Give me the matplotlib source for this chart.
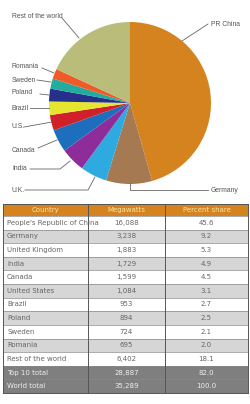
import matplotlib
matplotlib.use("Agg")
import matplotlib.pyplot as plt
from matplotlib.patches import Rectangle

# ---- data ----
countries = ["PR China", "Germany", "U.K.", "India", "Canada", "U.S.", "Brazil",
             "Poland", "Sweden", "Romania", "Rest of the world"]
megawatts = [16088, 3238, 1883, 1729, 1599, 1084, 953, 894, 724, 695, 6402]
colors = ["#D4831F", "#A57A52", "#2EAAE1", "#8E2C9A", "#1E6EBE", "#D0202A",
          "#E6E631", "#262F8C", "#21AC9E", "#F05A28", "#B9BD79"]

table_header = ["Country", "Megawatts", "Percent share"]
table_country = ["People's Republic of China", "Germany", "United Kingdom", "India",
                 "Canada", "United States", "Brazil", "Poland", "Sweden", "Romania",
                 "Rest of the world", "Top 10 total", "World total"]
table_mw = ["16,088", "3,238", "1,883", "1,729", "1,599", "1,084", "953", "894",
            "724", "695", "6,402", "28,887", "35,289"]
table_pct = ["45.6", "9.2", "5.3", "4.9", "4.5", "3.1", "2.7", "2.5", "2.1", "2.0",
             "18.1", "82.0", "100.0"]

W, H = 250, 404
fig = plt.figure(figsize=(W / 100, H / 100), dpi=100)
ax = fig.add_axes([0, 0, 1, 1])
ax.set_xlim(0, W)
ax.set_ylim(0, H)
ax.set_aspect("equal")
ax.axis("off")

def Y(py):
    return H - py

# ---- pie ----
cx, cy, r = 130, Y(103), 81
ax.pie(megawatts, colors=colors, startangle=90, counterclock=False,
       center=(cx, cy), radius=r, frame=True,
       wedgeprops=dict(linewidth=0))
ax.set_xlim(0, W)
ax.set_ylim(0, H)
ax.axis("off")

lc = "#666666"
fs = 4.9
labels = {
    "Rest of the world": ((12, 16), [(62, 18), (79, 38)]),
    "PR China": ((211, 24), [(208, 24), (182, 41)]),
    "Romania": ((12, 66), [(42, 68), (54, 73)]),
    "Sweden": ((12, 80), [(37, 80), (51, 82)]),
    "Poland": ((12, 93), [(40, 94), (49, 95)]),
    "Brazil": ((12, 108), [(30, 108), (49, 108)]),
    "U.S.": ((12, 127), [(24, 127), (52, 122)]),
    "Canada": ((12, 150), [(38, 148), (57, 140)]),
    "India": ((12, 169), [(30, 169), (60, 169), (70, 161)]),
    "U.K.": ((12, 190), [(25, 190), (88, 190), (95, 177)]),
    "Germany": ((211, 190), [(208, 190), (130, 190), (130, 183)]),
}
for name in countries:
    (tx, ty), path = labels[name]
    ax.text(tx, Y(ty), name, fontsize=fs, color="#555555", ha="left", va="center",
            family="Liberation Sans")
    xs = [p[0] for p in path]
    ys = [Y(p[1]) for p in path]
    ax.plot(xs, ys, color=lc, lw=0.6)

# ---- table ----
x0, x1, x2, x3 = 3, 88, 165, 248
top = 203.5
hh = 12.5
rh = (393 - top - hh) / 13
col_edges = [x0, x1, x2, x3]

def cell_row(yt, h, face):
    ax.add_patch(Rectangle((x0, Y(yt + h)), x3 - x0, h, facecolor=face,
                           edgecolor="none", zorder=1))

cell_row(top, hh, "#D4831F")
for i, t in enumerate(table_header):
    cxm = (col_edges[i] + col_edges[i + 1]) / 2
    ax.text(cxm, Y(top + hh / 2), t, fontsize=5, color="#F7E8A8", ha="center",
            va="center", zorder=3)

n = len(table_country)
for k in range(n):
    yt = top + hh + k * rh
    if k >= 11:
        face, tcol = "#7F7F7F", "#EEEEEE"
    elif k % 2 == 1:
        face, tcol = "#D6D6D6", "#666666"
    else:
        face, tcol = "#FFFFFF", "#666666"
    cell_row(yt, rh, face)
    ym = Y(yt + rh / 2)
    ax.text(x0 + 4, ym, table_country[k], fontsize=5, color=tcol, ha="left",
            va="center", zorder=3)
    ax.text((x1 + x2) / 2, ym, table_mw[k], fontsize=5, color=tcol, ha="center",
            va="center", zorder=3)
    ax.text((x2 + x3) / 2, ym, table_pct[k], fontsize=5, color=tcol, ha="center",
            va="center", zorder=3)
    ax.plot([x0, x3], [Y(yt), Y(yt)], color="#888888", lw=0.5, zorder=2)

bottom = top + hh + n * rh
for xe in col_edges:
    ax.plot([xe, xe], [Y(top), Y(bottom)], color="#555555", lw=0.7, zorder=2)
ax.plot([x0, x3], [Y(top), Y(top)], color="#555555", lw=0.7, zorder=2)
ax.plot([x0, x3], [Y(bottom), Y(bottom)], color="#555555", lw=0.7, zorder=2)

fig.savefig("out.png", dpi=100, facecolor="white")
